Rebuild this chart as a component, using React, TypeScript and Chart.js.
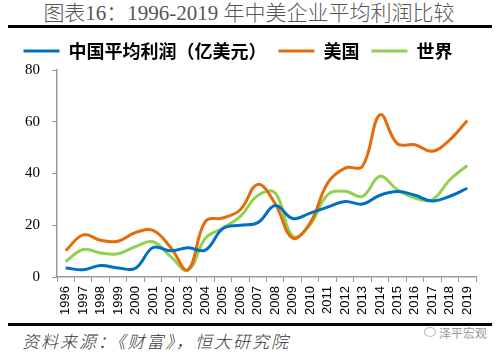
import React, { useEffect, useRef } from "react";
import { Chart, registerables } from "chart.js";

Chart.register(...registerables);

const years = ["1996","1997","1998","1999","2000","2001","2002","2003","2004","2005","2006","2007","2008","2009","2010","2011","2012","2013","2014","2015","2016","2017","2018","2019"];
const chinaProfit = [3.5, 2.8, 4.4, 3.5, 3.4, 11.4, 10.1, 11.3, 10.4, 18.7, 20.0, 21.0, 27.6, 22.6, 24.7, 27.0, 29.2, 28.2, 31.6, 33.0, 31.6, 29.4, 31.2, 34.3];
const usProfit = [10.2, 16.3, 14.2, 13.8, 17.2, 18.0, 11.5, 2.8, 21.5, 22.8, 26.0, 35.8, 28.3, 15.0, 20.9, 36.3, 42.1, 42.8, 62.7, 51.5, 51.1, 48.6, 53.0, 60.5];
const worldProfit = [6.0, 10.6, 9.3, 9.0, 11.8, 13.6, 8.0, 2.6, 15.0, 18.9, 23.4, 31.5, 32.5, 15.7, 20.2, 31.8, 33.1, 31.2, 38.9, 33.7, 30.5, 29.9, 37.6, 43.1];
const seriesNames = ["中国平均利润（亿美元）", "美国", "世界"];
const seriesColors = ["#0070C0", "#E46C0A", "#92D050"];

export default function App() {
  const ref = useRef<HTMLCanvasElement | null>(null);
  useEffect(() => {
    if (!ref.current) return;
    const mk = (i: number, data: number[]) => ({
      label: seriesNames[i],
      data,
      borderColor: seriesColors[i],
      backgroundColor: seriesColors[i],
      borderWidth: 3,
      pointRadius: 0,
      tension: 0.4,
      fill: false,
    });
    const chart = new Chart(ref.current, {
      type: "line",
      data: {
        labels: years,
        datasets: [mk(0, chinaProfit), mk(1, usProfit), mk(2, worldProfit)],
      },
      options: {
        animation: false,
        responsive: false,
        layout: { padding: { top: 0, right: 25, left: 0, bottom: 0 } },
        plugins: {
          tooltip: { enabled: false },
          legend: {
            display: true,
            position: "top",
            labels: {
              usePointStyle: true,
              pointStyle: "line",
              pointStyleWidth: 36,
              padding: 12,
              color: "#000",
              font: { family: "'Noto Sans CJK SC', sans-serif", size: 18, weight: "bold" },
            },
          },
        },
        scales: {
          x: {
            type: "category",
            offset: true,
            grid: { drawOnChartArea: false, drawTicks: true, tickLength: 5, color: "#999", offset: true },
            border: { color: "#999", width: 1.5 },
            ticks: {
              minRotation: 90,
              maxRotation: 90,
              autoSkip: false,
              padding: 4,
              color: "#000",
              font: { family: "'Liberation Sans', Arial, sans-serif", size: 13 },
            },
            afterFit: (s: any) => { s.height = 40; },
          },
          y: {
            min: 0,
            max: 80,
            grid: { drawOnChartArea: false, drawTicks: true, tickLength: 5, color: "#999" },
            border: { color: "#999", width: 1.5 },
            ticks: {
              stepSize: 20,
              padding: 12,
              color: "#000",
              font: { family: "'Liberation Serif', 'Times New Roman', serif", size: 15 },
            },
            afterFit: (s: any) => { s.width = 57; },
          },
        },
      },
    } as any);
    return () => chart.destroy();
  }, []);

  return (
    <div style={{ position: "absolute", left: 0, top: 0, width: 501, height: 357, background: "#fff", overflow: "hidden" }}>
      <div style={{ position: "absolute", left: 0, top: 1, width: 498, textAlign: "center", fontFamily: "'Liberation Serif', 'Noto Sans CJK SC', serif", fontSize: 21, fontWeight: 300, color: "#555", lineHeight: "24px", whiteSpace: "nowrap" }}>
        图表16：1996-2019 年中美企业平均利润比较
      </div>
      <div style={{ position: "absolute", left: 8, top: 25, width: 484, height: 3, background: "#000" }} />
      <canvas ref={ref} width={501} height={287} style={{ position: "absolute", left: 0, top: 30, width: 501, height: 287 }} />
      <div style={{ position: "absolute", left: 8, top: 323, width: 484, height: 3, background: "#000" }} />
      <div style={{ position: "absolute", left: 22, top: 330, fontFamily: "'Noto Sans CJK SC', sans-serif", fontStyle: "italic", fontWeight: 300, fontSize: 17, letterSpacing: 2, color: "#333", lineHeight: "22px", whiteSpace: "nowrap" }}>
        资料来源：《财富》，恒大研究院
      </div>
      <div style={{ position: "absolute", left: 424, top: 327, width: 10, height: 8, border: "1px solid #bbb", borderRadius: "50%" }} />
      <div style={{ position: "absolute", left: 439, top: 326, fontFamily: "'Noto Sans CJK SC', sans-serif", fontSize: 12, color: "#999", lineHeight: "14px", whiteSpace: "nowrap" }}>
        泽平宏观
      </div>
    </div>
  );
}
